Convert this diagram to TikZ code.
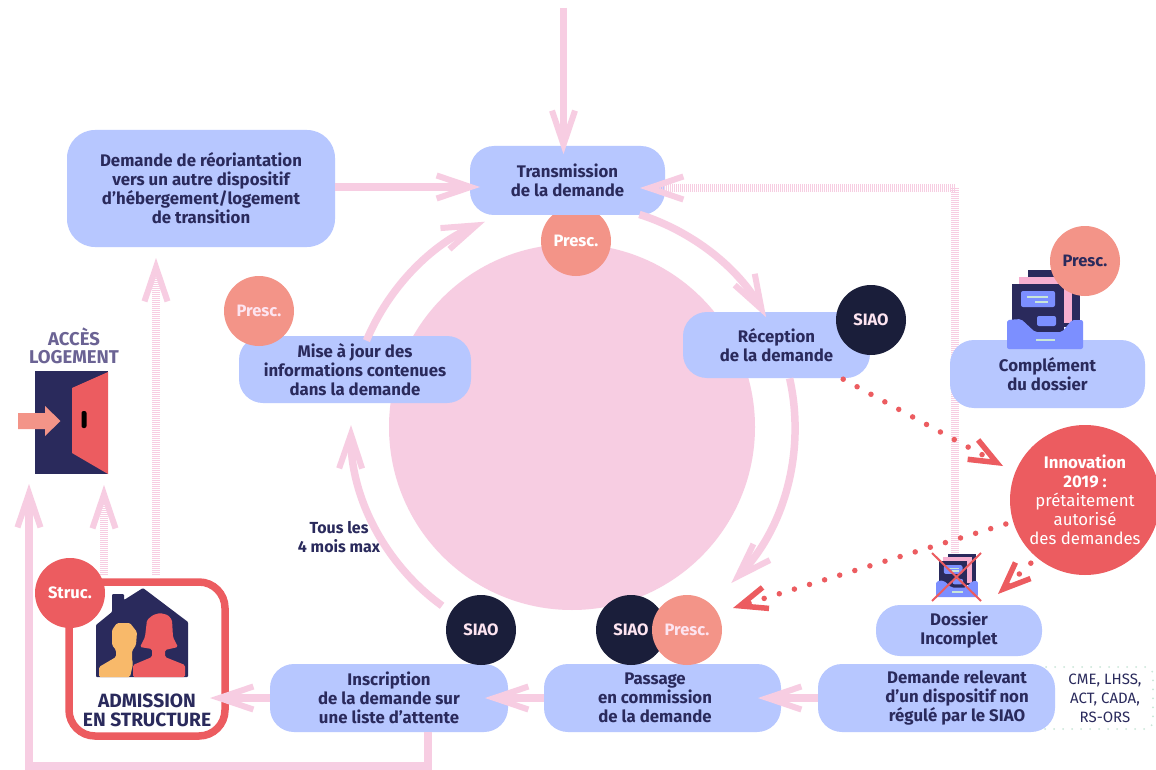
\documentclass[tikz,border=0pt]{standalone}
\usepackage{fontspec}
\setmainfont{Fira Sans}
\usetikzlibrary{arrows.meta,calc}
\definecolor{boxblue}{HTML}{B7C7FF}
\definecolor{flow}{HTML}{F7CDE2}
\definecolor{salmon}{HTML}{F39488}
\definecolor{redc}{HTML}{EC5C60}
\definecolor{darkc}{HTML}{1A1E3A}
\definecolor{navy}{HTML}{2A2A5C}
\definecolor{amber}{HTML}{F8B96A}
\definecolor{tray}{HTML}{7C8FFF}
\definecolor{palegreen}{HTML}{C9E6D8}
\definecolor{rosec}{HTML}{F7AFD0}
\definecolor{greyc}{HTML}{6B6394}
\definecolor{palepink}{HTML}{FDE4F0}
\tikzset{
  boxtxt/.style={align=center,text=navy,font=\fontsize{16.8}{19}\selectfont\bfseries,inner sep=0pt},
  bluebox/.style={boxtxt,rectangle,fill=boxblue,rounded corners=24pt},
  badge/.style={circle,minimum size=70pt,inner sep=0pt,font=\fontsize{16.5}{19}\selectfont\bfseries},
  flowtip/.style={-{Straight Barb[length=34pt,width=23pt,line width=6pt]}},
  flowline/.style={draw=flow,line width=7.5pt,flowtip},
  hatched/.style={draw=flow,line width=8pt,dash pattern=on 1pt off 1pt},
  reddots/.style={draw=redc,line width=5.5pt,line cap=round,dash pattern=on 0pt off 15.8pt,
     -{Straight Barb[length=27pt,width=22pt,line width=5.5pt]}},
  foldericon/.pic={
    \fill[navy] (-17,-79) rectangle (35,-22);
    \fill[rosec] (-26,-72) rectangle (27,-26);
    \fill[navy] (-33,-65) rectangle (19,-14);
    \fill[tray,rounded corners=2pt] (-24,-58) rectangle (10,-42);
    \draw[palegreen,line width=1.6pt] (-18,-52) -- (3,-52) (-10,-47) -- (3,-47);
    \fill[tray,rounded corners=2pt] (-8,-33) rectangle (11,-23);
    \fill[tray,rounded corners=2pt] (-38,-29) -- (-24,-30) -- (-10,-17) -- (17,-17) -- (27,-29) -- (38,-29) -- (38,0) -- (-38,0) -- cycle;
    \draw[palegreen,line width=1.6pt] (-9,-9) -- (10,-9);
  }
}
\begin{document}
\begin{tikzpicture}[x=1pt,y=-1pt]
\useasboundingbox (0,0) rectangle (1156,770);
\fill[white] (0,0) rectangle (1156,770);

% central disc and centre of the ring of arrows
\node[circle,fill=flow,minimum size=366pt,inner sep=0pt] (disc) at (572,427) {};
\coordinate (c) at (572,427);

% hatched return behind the boxes
\coordinate (hcorner) at (955,188);
\coordinate (hend) at (955,555);
\coordinate (htip) at (640,188);

% Presc. below Transmission
\node[badge,fill=salmon,text=white] (p1) at (576,241) {Presc.};

% dotted box behind "Demande relevant"
\node[draw=palegreen,line width=2pt,dash pattern=on 0pt off 9pt,line cap=round,rounded corners=8pt,
      minimum width=116pt,minimum height=62pt,inner sep=0pt] (cmebox) at (1095,698) {};

% boxes
\node[bluebox,minimum width=195pt,minimum height=69pt] (trans) at (567.5,180.5) {Transmission\\de la demande};
\node[bluebox,rounded corners=28pt,minimum width=268pt,minimum height=117pt] (reo) at (201,188.5) {Demande de réoriantation\\vers un autre dispositif\\d’hébergement/logement\\de transition};
\node[bluebox,minimum width=187pt,minimum height=66pt] (rec) at (776.5,345) {Réception\\de la demande};
\node[bluebox,minimum width=232pt,minimum height=67pt] (maj) at (355,369.5) {Mise à jour des\\informations contenues\\dans la demande};

% hatched path, lower leg behind the boxes
\draw[hatched] (hend) -- (hcorner);

\node[bluebox,minimum width=195pt,minimum height=68pt] (comp) at (1047.5,374) {Complément\\du dossier};
\node[bluebox,minimum width=166pt,minimum height=51pt] (dos) at (959,630.5) {Dossier\\Incomplet};
\node[bluebox,minimum width=237pt,minimum height=68pt] (dem) at (936.5,698) {};
\node[boxtxt] (demtxt) at (957,698) {Demande relevant\\d’un dispositif non\\régulé par le SIAO};
\node[bluebox,minimum width=237pt,minimum height=68pt] (pas) at (662.5,698) {};
\node[boxtxt] (pastxt) at (655,698) {Passage\\en commission\\de la demande};
\node[bluebox,minimum width=238pt,minimum height=68pt] (ins) at (389,698) {Inscription\\de la demande sur\\une liste d’attente};

\node[align=center,text=navy,font=\fontsize{15}{19}\selectfont,inner sep=0pt] (cme) at (1105,698) {CME, LHSS,\\ACT, CADA,\\RS-ORS};

% admission
\node[draw=redc,fill=white,line width=7.5pt,rounded corners=26pt,minimum width=156pt,minimum height=154pt,inner sep=0pt] (adm) at (147,659) {};
\node[align=center,text=navy,font=\fontsize{19.2}{19}\selectfont\bfseries,inner sep=0pt] (admtxt) at (147,710) {ADMISSION\\EN STRUCTURE};
\fill[navy,rounded corners=1pt] (96,677) -- (96,625) -- (112,612) -- (112,594) -- (124,594) -- (124,600) -- (143,588) -- (188,622) -- (188,677) -- cycle;
\fill[amber,rounded corners=1.5pt] (99,677) -- (99,667) -- (116,657) -- (116,650) -- (112,645) -- (112,630) -- (117,623) -- (130,623) -- (137,632) -- (136,645) -- (132,651) -- (132,659) -- (133,664) -- (130,677) -- cycle;
\fill[redc,rounded corners=1.5pt] (133,677) -- (133,665) -- (152,657) -- (152,649) -- (140,647) -- (145,637) -- (147,620) -- (153,615) -- (160,613) -- (168,615) -- (172,620) -- (173,637) -- (178,647) -- (165,650) -- (165,657) -- (185,665) -- (185,677) -- cycle;

% door
\node[align=center,text=greyc,font=\fontsize{18.5}{18.5}\selectfont\bfseries,inner sep=0pt] (acces) at (74,346) {ACCÈS\\LOGEMENT};
\node[fill=navy,minimum width=73pt,minimum height=103pt,inner sep=0pt] (door) at (71.5,422.5) {};
\fill[redc] (72,388) -- (108,372) -- (108,474) -- (72,453) -- cycle;
\fill[black,rounded corners=2pt] (81.5,411) rectangle (86.5,428);
\fill[salmon] (18,413) -- (45,413) -- (45,406) -- (60.5,421) -- (45,436) -- (45,429) -- (18,429) -- cycle;

% folder icons
\pic at (1045,349) {foldericon};
\pic[scale=.55] at (957,597) {foldericon};
\draw[redc,line width=2pt] (932,553) -- (981,601) (981,553) -- (932,601);

% badges
\node[badge,fill=darkc,text=palepink] (s1) at (871,320) {SIAO};
\node[badge,fill=salmon,text=navy] (p2) at (1085,261) {Presc.};
\node[badge,fill=salmon,text=palepink] (p3) at (259,311) {Presc.};
\node[badge,fill=darkc,text=palepink] (s2) at (481,630) {SIAO};
\node[badge,fill=darkc,text=palepink] (s3) at (631,630) {SIAO};
\node[badge,fill=salmon,text=palepink] (p4) at (687,630) {Presc.};
\node[badge,fill=redc,text=white] (st) at (70,593) {Struc.};
\node[circle,fill=redc,minimum size=150pt,inner sep=0pt,align=center,text=white,font=\fontsize{16.8}{19}\selectfont] (inno) at (1085,500)
  {{\bfseries Innovation}\\{\bfseries 2019 :}\\prétaitement\\autorisé\\des demandes};

\node[boxtxt,font=\fontsize{16}{19}\selectfont\bfseries] (tous) at (339,537) {Tous les\\4 mois max};

% free ends
\coordinate (top) at (563.5,8);
\coordinate (toptip) at (563.5,154);
\coordinate (hs1) at (156,575);
\coordinate (ht1) at (156,258);
\coordinate (hs2) at (104,575);
\coordinate (ht2) at (104,485);
\coordinate (b0) at (428,732);
\coordinate (b1) at (428,766);
\coordinate (b2) at (29,766);
\coordinate (b3) at (29,484);
\coordinate (a1) at ($(c)+(-72.4:223)$);
\coordinate (a2) at ($(c)+(-12.6:223)$);
\coordinate (a3) at ($(c)+(126:221)$);
\coordinate (a4) at ($(c)+(202.8:223)$);

% straight connectors
\draw[flowline] (top) -- (toptip);
\draw[flowline] (reo.east |- 0,187) -- (480,187);
\draw[flowline] (dem.west) -- (758,698);
\draw[flowline] (pas.west) -- (485,698);
\draw[flowline] (ins.west) -- (210,698);
\draw[flowline] (b0) -- (b1) -- (b2) -- (b3);
\draw[hatched,flowtip] (hs1) -- (ht1);
\draw[hatched,flowtip] (hs2) -- (ht2);
\draw[hatched,flowtip] (hcorner) -- (htip);

% ring of arrows
\draw[flowline] (a1) arc[start angle=-72.4,end angle=-29.5,radius=223];
\draw[flowline] (a2) arc[start angle=-12.6,end angle=44.4,radius=223];
\draw[flowline] (a3) arc[start angle=126,end angle=180.5,radius=221];
\draw[flowline] (a4) arc[start angle=202.8,end angle=247,radius=223];

% dotted red
\draw[reddots] (rec.south east) ++(-27,1) coordinate (d1) -- (1003,466);
\draw[reddots] (inno.west) ++(-4,24) coordinate (d2) -- (733,608);
\draw[reddots] (inno.south west) ++(-1,10) coordinate (d3) -- (998,594);
\end{tikzpicture}
\end{document}
